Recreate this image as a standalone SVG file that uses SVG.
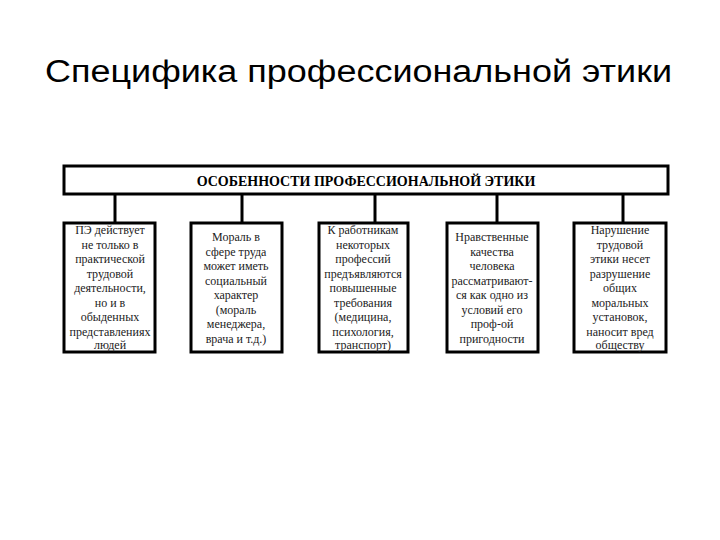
<svg xmlns="http://www.w3.org/2000/svg" width="720" height="540" viewBox="0 0 720 540">
<style>
.b{fill:#fff;stroke:#000;stroke-width:3}
.t{font-family:"Liberation Serif",serif;font-size:12px;text-anchor:middle;fill:#222}
.c{stroke:#000;stroke-width:3;fill:none}
</style>
<rect width="720" height="540" fill="#fff"/>
<text x="45" y="82" font-family="Liberation Sans,Arial,sans-serif" font-size="31" textLength="627" lengthAdjust="spacingAndGlyphs" fill="#000">Специфика профессиональной этики</text>
<g id="connectors">
<line class="c" x1="115" y1="195" x2="115" y2="223"/>
<line class="c" x1="242" y1="195" x2="242" y2="223"/>
<line class="c" x1="375" y1="195" x2="375" y2="223"/>
<line class="c" x1="497" y1="195" x2="497" y2="223"/>
<line class="c" x1="623" y1="195" x2="623" y2="223"/>
</g>
<g id="top"><rect class="b" x="64" y="166" width="604" height="28"/>
<text x="366" y="186" font-family="Liberation Serif,serif" font-size="14" font-weight="bold" text-anchor="middle">ОСОБЕННОСТИ ПРОФЕССИОНАЛЬНОЙ ЭТИКИ</text></g>
<g id="n1"><rect class="b" x="64" y="223" width="91" height="129"/>
<text class="t"><tspan x="110" y="234">ПЭ действует</tspan><tspan x="110" y="248.5">не только в</tspan><tspan x="110" y="263">практической</tspan><tspan x="110" y="277.5">трудовой</tspan><tspan x="110" y="292">деятельности,</tspan><tspan x="110" y="306.5">но и в</tspan><tspan x="110" y="321">обыденных</tspan><tspan x="110" y="335.5">представлениях</tspan><tspan x="110" y="349">людей</tspan></text></g>
<g id="n2"><rect class="b" x="191" y="223" width="91" height="129"/>
<text class="t"><tspan x="236" y="241">Мораль в</tspan><tspan x="236" y="255.5">сфере труда</tspan><tspan x="236" y="270">может иметь</tspan><tspan x="236" y="284.5">социальный</tspan><tspan x="236" y="299">характер</tspan><tspan x="236" y="313.5">(мораль</tspan><tspan x="236" y="328">менеджера,</tspan><tspan x="236" y="342.5">врача и т.д.)</tspan></text></g>
<g id="n3"><rect class="b" x="319" y="223" width="89" height="129"/>
<text class="t"><tspan x="363" y="234">К работникам</tspan><tspan x="363" y="248.5">некоторых</tspan><tspan x="363" y="263">профессий</tspan><tspan x="363" y="277.5">предъявляются</tspan><tspan x="363" y="292">повышенные</tspan><tspan x="363" y="306.5">требования</tspan><tspan x="363" y="321">(медицина,</tspan><tspan x="363" y="335.5">психология,</tspan><tspan x="363" y="349">транспорт)</tspan></text></g>
<g id="n4"><rect class="b" x="447" y="223" width="91" height="129"/>
<text class="t"><tspan x="492" y="241">Нравственные</tspan><tspan x="492" y="255.5">качества</tspan><tspan x="492" y="270">человека</tspan><tspan x="492" y="284.5">рассматриваю­т-</tspan><tspan x="492" y="299">ся как одно из</tspan><tspan x="492" y="313.5">условий его</tspan><tspan x="492" y="328">проф-ой</tspan><tspan x="492" y="342.5">пригодности</tspan></text></g>
<g id="n5"><rect class="b" x="574" y="223" width="92" height="129"/>
<text class="t"><tspan x="620" y="234">Нарушение</tspan><tspan x="620" y="248.5">трудовой</tspan><tspan x="620" y="263">этики несет</tspan><tspan x="620" y="277.5">разрушение</tspan><tspan x="620" y="292">общих</tspan><tspan x="620" y="306.5">моральных</tspan><tspan x="620" y="321">установок,</tspan><tspan x="620" y="335.5">наносит вред</tspan><tspan x="620" y="349">обществу</tspan></text></g>
</svg>
